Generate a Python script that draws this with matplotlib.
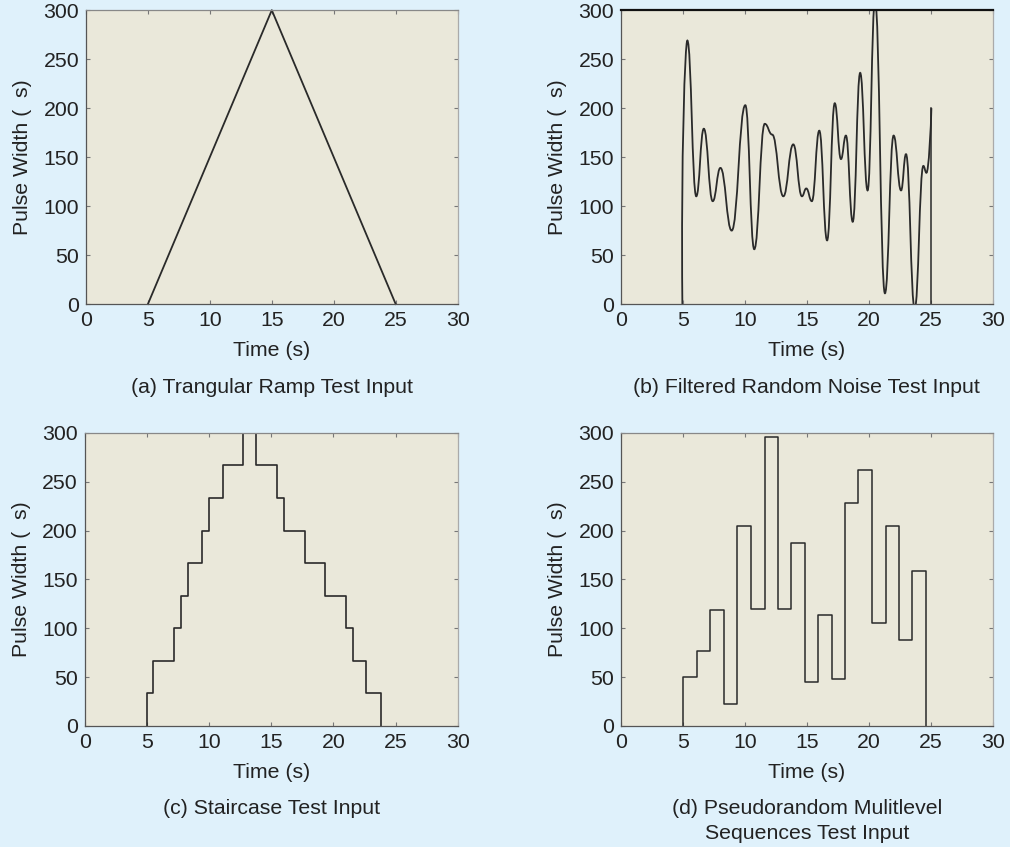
import numpy as np
import matplotlib.pyplot as plt
from matplotlib.path import Path
from matplotlib.patches import PathPatch

plt.rcParams['font.family'] = ['Liberation Sans', 'DejaVu Sans']

# (a) triangular ramp
ramp_t = [5, 15, 25]
ramp_v = [0, 300, 0]

# (b) filtered random noise: turning points
noise_t = [4.95, 5.35, 6.07, 6.68, 7.4, 8.02, 8.93, 10.03, 10.75, 11.6, 12.2,
           13.1, 13.9, 14.6, 14.95, 15.4, 16.0, 16.63, 17.25, 17.75, 18.15,
           18.7, 19.3, 19.9, 20.5, 21.3, 22.0, 22.6, 23.0, 23.7, 24.4, 24.65, 25.05]
noise_v = [0, 269, 110, 179, 105, 139, 75, 203, 56, 184, 173,
           110, 163, 110, 118, 105, 177, 65, 205, 148, 172,
           84, 236, 116, 310, 11, 172, 116, 153, -5, 141, 134, 200]

# (c) staircase: switching times and level after each switch
stair_t = [5.0, 5.5, 7.2, 7.7, 8.3, 9.4, 10.0, 11.1, 12.75, 13.8, 15.5,
           16.05, 17.7, 19.35, 21.0, 21.55, 22.65, 23.8]
stair_v = [33.3, 66.7, 100, 133.3, 166.7, 200, 233.3, 266.7, 300, 266.7,
           233.3, 200, 166.7, 133.3, 100, 66.7, 33.3, 0]

# (d) pseudorandom multilevel sequence
prms_t = [5.0, 6.15, 7.2, 8.28, 9.35, 10.47, 11.59, 12.65, 13.72, 14.81,
          15.9, 17.0, 18.09, 19.16, 20.25, 21.35, 22.41, 23.51, 24.6]
prms_v = [50, 77, 119, 22, 205, 120, 296, 120, 187, 45,
          114, 48, 228, 262, 105, 205, 88, 159, 0]

captions = ['(a) Trangular Ramp Test Input',
            '(b) Filtered Random Noise Test Input',
            '(c) Staircase Test Input',
            '(d) Pseudorandom Mulitlevel\nSequences Test Input']

bg = '#dff1fb'
face = '#eae8da'
line_c = '#2a2a2a'
txt_c = '#222222'
fs = 15.3

fig = plt.figure(figsize=(10.10, 8.47), dpi=100, facecolor=bg)
boxes = [[0.0851, 0.641, 0.368, 0.347],
         [0.6149, 0.641, 0.368, 0.347],
         [0.0841, 0.1429, 0.369, 0.346],
         [0.6149, 0.1429, 0.368, 0.346]]
axes = [fig.add_axes(b) for b in boxes]

for ax, cap in zip(axes, captions):
    ax.set_facecolor(face)
    ax.set_xlim(0, 30)
    ax.set_ylim(0, 300)
    ax.set_xticks(range(0, 31, 5))
    ax.set_yticks(range(0, 301, 50))
    ax.tick_params(direction='in', length=3, width=0.8, color='#777777',
                   top=True, right=True, labelsize=fs, labelcolor=txt_c, pad=5)
    ax.spines['left'].set_color('#555555')
    ax.spines['bottom'].set_color('#555555')
    ax.spines['top'].set_color('#888888')
    ax.spines['right'].set_color('#aaaaaa')
    for s in ax.spines.values():
        s.set_linewidth(0.9)
    ax.set_xlabel('Time (s)', fontsize=fs, color=txt_c, labelpad=8)
    ax.set_ylabel('Pulse Width (  s)', fontsize=fs, color=txt_c, labelpad=8)
    ax.text(0.5, -0.25, cap, transform=ax.transAxes, ha='center', va='top',
            fontsize=fs, color=txt_c, linespacing=1.4)

# (a)
axes[0].plot(ramp_t, ramp_v, color=line_c, lw=1.3, clip_on=False)

# (b) smooth curve through turning points (horizontal tangents at extremes)
ax = axes[1]
verts = [(noise_t[0], noise_v[0])]
codes = [Path.MOVETO]
for i in range(len(noise_t) - 1):
    t0, v0 = noise_t[i], noise_v[i]
    t1, v1 = noise_t[i + 1], noise_v[i + 1]
    dt = t1 - t0
    if i == 0:
        c1 = (t0 - 0.12, v0 + 0.55 * (v1 - v0))
    else:
        c1 = (t0 + 0.45 * dt, v0)
    if i == len(noise_t) - 2:
        c2 = (t1 - 0.1 * dt, v1 - 0.3 * (v1 - v0))
    else:
        c2 = (t1 - 0.45 * dt, v1)
    verts += [c1, c2, (t1, v1)]
    codes += [Path.CURVE4] * 3
ax.add_patch(PathPatch(Path(verts, codes), fill=False, ec=line_c, lw=1.3))
ax.plot([noise_t[-1], noise_t[-1]], [noise_v[-1], 0], color=line_c, lw=1.1)
ax.spines['top'].set_color('#111111')
ax.spines['top'].set_linewidth(1.6)

# (c)
axes[2].step([5.0] + stair_t, [0] + stair_v, where='post', color=line_c, lw=1.2)

# (d)
axes[3].step([5.0] + prms_t, [0] + prms_v, where='post', color=line_c, lw=1.1)

fig.savefig('out.png', dpi=100, facecolor=bg)
